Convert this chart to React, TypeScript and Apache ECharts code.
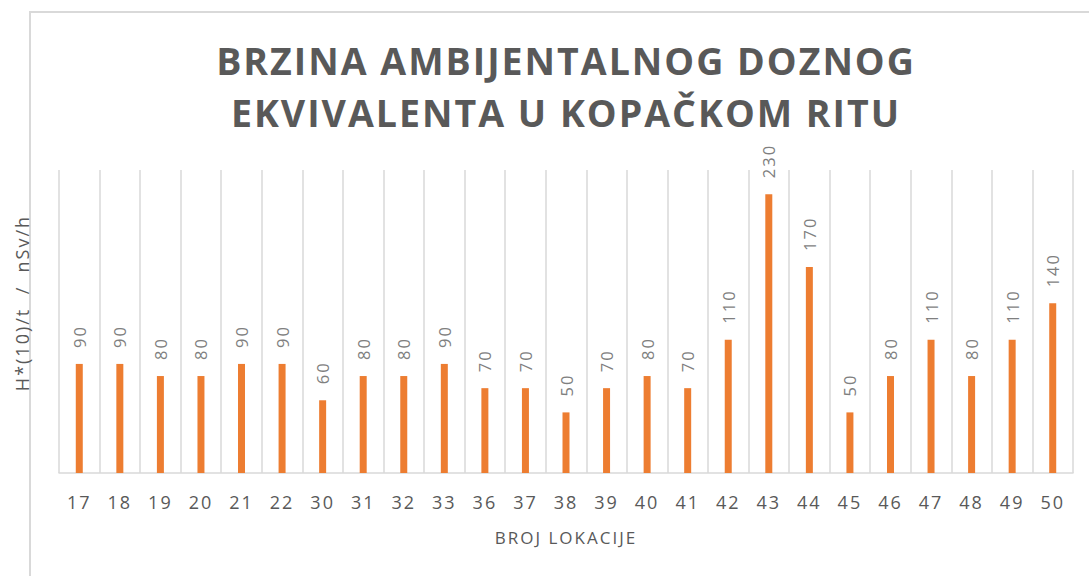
import React, { useEffect, useRef } from "react";
import * as echarts from "echarts";

const categories = ["17","18","19","20","21","22","30","31","32","33","36","37","38","39","40","41","42","43","44","45","46","47","48","49","50"];
const values = [90,90,80,80,90,90,60,80,80,90,70,70,50,70,80,70,110,230,170,50,80,110,80,110,140];
const titleLines = ["BRZINA AMBIJENTALNOG DOZNOG", "EKVIVALENTA U KOPAČKOM RITU"];
const yName = "H*(10)/t  /  nSv/h";
const xName = "BROJ LOKACIJE";

export default function App() {
  const ref = useRef<HTMLDivElement>(null);
  useEffect(() => {
    if (!ref.current) return;
    const chart = echarts.init(ref.current, null, { renderer: "svg" });
    const font = "'Open Sans', 'Noto Sans', sans-serif";
    chart.setOption({
      animation: false,
      backgroundColor: "#ffffff",
      textStyle: { fontFamily: font },
      graphic: [
        { type: "rect", shape: { x: 30, y: 12, width: 1100, height: 600 }, style: { fill: "none", stroke: "#d9d9d9", lineWidth: 2 }, silent: true, z: -1 },
        {
          type: "text", x: 566, y: 60, silent: true,
          style: { text: titleLines[0], font: "bold 37.5px " + font, fill: "#595959", textAlign: "center", textVerticalAlign: "middle" },
        },
        {
          type: "text", x: 566, y: 112, silent: true,
          style: { text: titleLines[1], font: "bold 37.5px " + font, fill: "#595959", textAlign: "center", textVerticalAlign: "middle" },
        },
        {
          type: "text", x: 22, y: 303, rotation: Math.PI / 2, silent: true,
          style: { text: yName, font: "18px " + font, fill: "#595959", textAlign: "center", textVerticalAlign: "middle" },
        },
      ],
      grid: { left: 59, right: 16, top: 170, bottom: 103, containLabel: false },
      xAxis: {
        type: "category",
        data: categories,
        name: xName,
        nameLocation: "middle",
        nameGap: 56,
        nameTextStyle: { fontSize: 17, color: "#595959", fontFamily: font },
        axisLine: { show: true, lineStyle: { color: "#d9d9d9", width: 1.5 } },
        axisTick: { show: false },
        axisLabel: { fontSize: 18, color: "#595959", margin: 20, fontFamily: font },
        splitLine: { show: true, lineStyle: { color: "#d9d9d9", width: 1.5 } },
      },
      yAxis: {
        type: "value",
        min: 0,
        max: 250,
        axisLine: { show: false },
        axisTick: { show: false },
        axisLabel: { show: false },
        splitLine: { show: false },
      },
      series: [
        {
          type: "bar",
          data: values,
          barWidth: 7,
          itemStyle: { color: "#ED7D31" },
          label: {
            show: true,
            position: "top",
            rotate: 90,
            align: "left",
            verticalAlign: "middle",
            distance: 16,
            fontSize: 16.5,
            color: "#7f7f7f",
            fontFamily: font,
          },
        },
      ],
    });
    return () => chart.dispose();
  }, []);
  return (
    <>
      <style>{"#chartbox svg text { letter-spacing: 2px; }"}</style>
      <div id="chartbox" ref={ref} style={{ position: "absolute", left: 0, top: 0, width: 1089, height: 576 }} />
    </>
  );
}
